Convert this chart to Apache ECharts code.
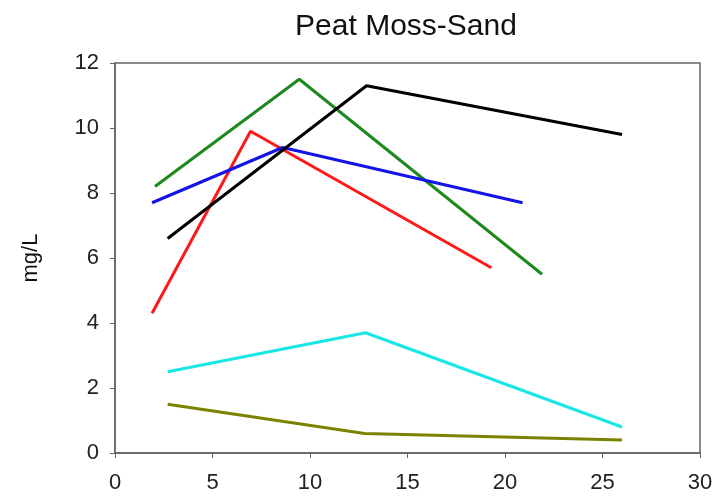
<!DOCTYPE html>
<html>
<head>
<meta charset="utf-8">
<script src="https://cdn.jsdelivr.net/npm/echarts@6/dist/echarts.min.js"></script>
<style>
  html, body { margin: 0; padding: 0; background: #fff; }
  #chart { width: 717px; height: 497px; }
</style>
</head>
<body>
<div id="chart"></div>
<script>
// Concentration over time, Peat Moss-Sand columns
const titleText = "Peat Moss-Sand";
const yAxisName = "mg/L";

const greenSeries = [[2.05, 8.2], [9.45, 11.5], [21.9, 5.5]];
const redSeries = [[1.9, 4.3], [6.95, 9.9], [19.3, 5.7]];
const blueSeries = [[1.9, 7.7], [8.6, 9.4], [20.9, 7.7]];
const blackSeries = [[2.7, 6.6], [12.9, 11.3], [26.0, 9.8]];
const cyanSeries = [[2.7, 2.5], [12.85, 3.7], [26.0, 0.8]];
const oliveSeries = [[2.7, 1.5], [12.8, 0.6], [26.0, 0.4]];

const xMin = 0, xMax = 30, xStep = 5;
const yMin = 0, yMax = 12, yStep = 2;

const lines = [
  { data: greenSeries, color: "#1e8a1e" },
  { data: redSeries, color: "#ff1a1a" },
  { data: blueSeries, color: "#1414e6" },
  { data: blackSeries, color: "#000000" },
  { data: cyanSeries, color: "#19e6e6" },
  { data: oliveSeries, color: "#7a8200" }
];

const chart = echarts.init(document.getElementById("chart"), null, { renderer: "canvas" });

const fontFamily = "Liberation Sans, Arial, sans-serif";
const axisText = { color: "#222", fontSize: 22, fontFamily: fontFamily };

chart.setOption({
  animation: false,
  backgroundColor: "#ffffff",
  title: {
    text: titleText,
    left: 401,
    top: 7,
    textAlign: "center",
    textStyle: { color: "#111", fontSize: 30, fontWeight: "normal", fontFamily: fontFamily }
  },
  grid: {
    left: 115, right: 17, top: 63, bottom: 44,
    show: true, borderColor: "#666", borderWidth: 1.5, backgroundColor: "transparent"
  },
  xAxis: {
    type: "value",
    min: xMin, max: xMax, interval: xStep,
    axisLine: { show: true, lineStyle: { color: "#666", width: 1.5 } },
    axisTick: { show: true, length: 5, lineStyle: { color: "#666" } },
    axisLabel: Object.assign({ margin: 19 }, axisText),
    splitLine: { show: false }
  },
  yAxis: {
    type: "value",
    min: yMin, max: yMax, interval: yStep,
    name: yAxisName,
    nameLocation: "middle",
    nameGap: 73,
    nameTextStyle: { color: "#111", fontSize: 22, fontFamily: fontFamily },
    axisLine: { show: true, lineStyle: { color: "#666", width: 1.5 } },
    axisTick: { show: true, length: 5, lineStyle: { color: "#666" } },
    axisLabel: Object.assign({ margin: 16 }, axisText),
    splitLine: { show: false }
  },
  series: lines.map(l => ({
    type: "line",
    data: l.data,
    symbol: "none",
    lineStyle: { color: l.color, width: 3 },
    itemStyle: { color: l.color }
  }))
});
</script>
</body>
</html>
